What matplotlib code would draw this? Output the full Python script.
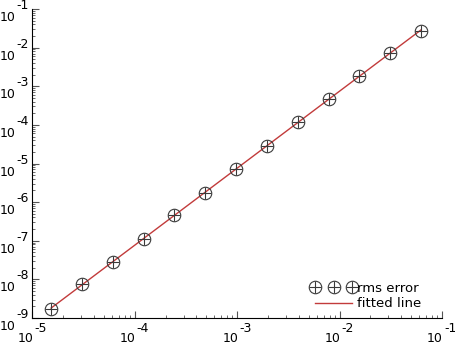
import numpy as np
import matplotlib
matplotlib.use("Agg")
import matplotlib.pyplot as plt
import matplotlib.transforms as mtransforms
from matplotlib.lines import Line2D

# step sizes (x) and rms error (y)
h = [1.526e-5, 3.052e-5, 6.104e-5, 1.221e-4, 2.441e-4, 4.883e-4, 9.766e-4,
     1.953e-3, 3.906e-3, 7.813e-3, 1.563e-2, 3.125e-2, 6.25e-2]
rms_error = [1.76e-9, 7.38e-9, 2.80e-8, 1.13e-7, 4.74e-7, 1.76e-6, 7.39e-6,
             2.80e-5, 1.19e-4, 4.55e-4, 1.86e-3, 7.36e-3, 2.74e-2]
x_decades = [-5, -4, -3, -2, -1]
y_decades = [-9, -8, -7, -6, -5, -4, -3, -2, -1]

plt.rcParams["font.family"] = ["DejaVu Sans"]

fig = plt.figure(figsize=(4.55, 3.45), dpi=100)
ax = fig.add_axes([32.3 / 455, 27 / 345, (442 - 32.3) / 455, (318 - 9) / 345])

# fitted line in log-log space
p = np.polyfit(np.log10(h), np.log10(rms_error), 1)
fit = 10 ** np.polyval(p, np.log10(h))

mk = "#3a3a3a"
red = "#c23b3b"
ax.plot(h, fit, color=red, lw=1.0, zorder=2)
ax.plot(h, rms_error, ls="none", marker="o", ms=9.0, mfc="none", mec=mk, mew=0.8, zorder=3)
ax.plot(h, rms_error, ls="none", marker="+", ms=9.0, mec=mk, mew=0.8, zorder=3)

# legend handle: circle + plus combined
h_circ = Line2D([], [], ls="none", marker="o", ms=9.0, mfc="none", mec=mk, mew=0.8)
h_plus = Line2D([], [], ls="none", marker="+", ms=9.0, mec=mk, mew=0.8)
h_line = Line2D([], [], color=red, lw=1.0)
ax.legend([(h_circ, h_plus), h_line], ["rms error", "fitted line"],
          loc="lower right", bbox_to_anchor=(0.973, -0.005), frameon=False,
          numpoints=3, handlelength=3.4, handletextpad=0.1, labelspacing=0.2,
          fontsize=9.5, borderaxespad=0.3)

ax.set_xscale("log")
ax.set_yscale("log")
ax.set_xlim(1e-5, 1e-1)
ax.set_ylim(1e-9, 1e-1)

ax.spines["top"].set_visible(False)
ax.spines["right"].set_visible(False)
ax.tick_params(which="both", direction="in", labelbottom=False, labelleft=False,
               color="#555555")
ax.tick_params(which="major", length=5, width=0.8)
ax.tick_params(which="minor", length=2.5, width=0.6)

# tick labels: "10" with the exponent set on its own row
fs = 9
xt = ax.get_xaxis_transform()
for d in x_decades:
    t10 = mtransforms.offset_copy(xt, fig=fig, x=1, y=-24, units="dots")
    tex = mtransforms.offset_copy(xt, fig=fig, x=2, y=-14, units="dots")
    ax.text(10.0 ** d, 0, "10", transform=t10, ha="right", va="baseline",
            fontsize=fs, clip_on=False)
    ax.text(10.0 ** d, 0, "-%d" % -d, transform=tex, ha="left", va="baseline",
            fontsize=fs, clip_on=False)

yt = ax.get_yaxis_transform()
for d in y_decades:
    t10 = mtransforms.offset_copy(yt, fig=fig, x=-16.5, y=-12, units="dots")
    tex = mtransforms.offset_copy(yt, fig=fig, x=-16, y=0, units="dots")
    ax.text(0, 10.0 ** d, "10", transform=t10, ha="right", va="baseline",
            fontsize=fs, clip_on=False)
    ax.text(0, 10.0 ** d, "-%d" % -d, transform=tex, ha="left", va="baseline",
            fontsize=fs, clip_on=False)

fig.savefig("out.png", dpi=100)
